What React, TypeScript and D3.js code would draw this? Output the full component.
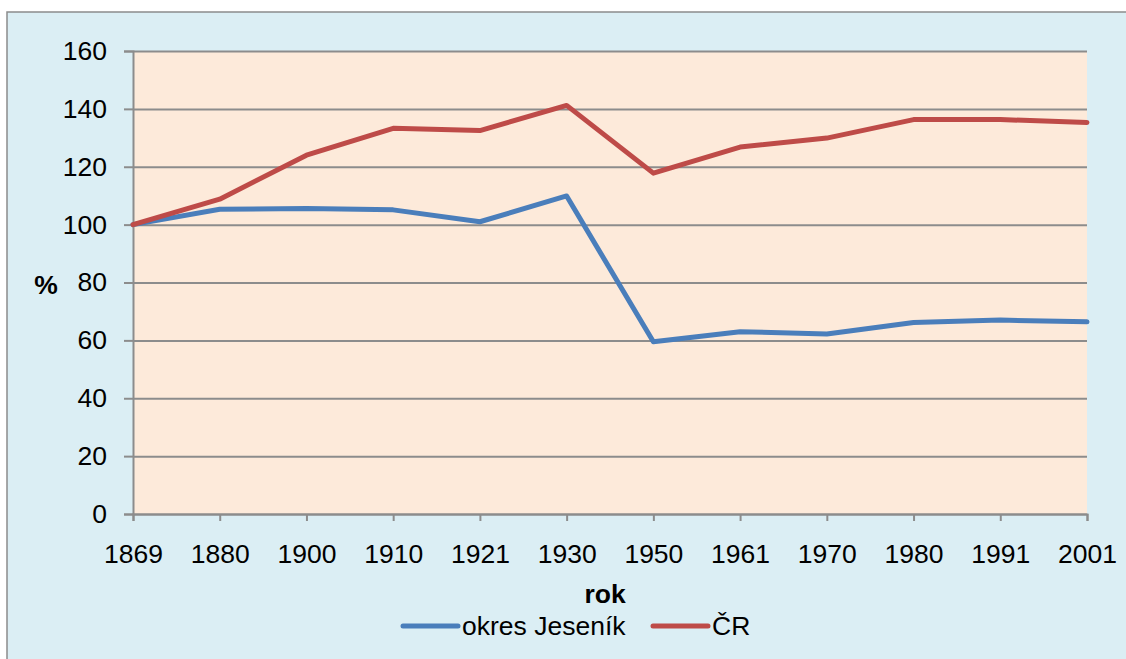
import { useEffect, useRef } from "react";
import * as d3 from "d3";

const YEARS = ["1869", "1880", "1900", "1910", "1921", "1930", "1950", "1961", "1970", "1980", "1991", "2001"];
const JESENIK = [100, 105.3, 105.6, 105.1, 101, 109.9, 59.5, 63, 62.2, 66.2, 67, 66.4];
const CR = [100, 108.8, 124, 133.3, 132.5, 141.2, 117.8, 126.8, 129.9, 136.3, 136.3, 135.3];
const Y_TICKS = [0, 20, 40, 60, 80, 100, 120, 140, 160];

const SERIES = [
  { name: "okres Jeseník", values: JESENIK, color: "#4A7EBB" },
  { name: "ČR", values: CR, color: "#BE4B48" },
];

const W = 1126;
const H = 659;
const FONT = "'Liberation Sans', Arial, sans-serif";
const FS = "26.5px";

export default function App() {
  const svgRef = useRef<SVGSVGElement>(null);

  useEffect(() => {
    const svg = svgRef.current;
    if (!svg) return;
    const s = d3.select(svg);
    s.selectAll("*").remove();

    const m = { top: 51, right: W - 1087, bottom: H - 514, left: 133 };
    const iW = W - m.left - m.right;
    const iH = H - m.top - m.bottom;

    // outer chart area (cropped at right/bottom)
    s.append("rect").attr("width", W).attr("height", H).attr("fill", "#ffffff");
    s.append("rect")
      .attr("x", 7)
      .attr("y", 12)
      .attr("width", W + 20)
      .attr("height", H + 20)
      .attr("fill", "#DBEEF4")
      .attr("stroke", "#8C8C8C")
      .attr("stroke-width", 1.5);

    const g = s.append("g").attr("transform", `translate(${m.left},${m.top})`);

    const x = d3.scalePoint<string>().domain(YEARS).range([0, iW]);
    const y = d3.scaleLinear().domain([0, 160]).range([iH, 0]);

    g.append("rect").attr("width", iW).attr("height", iH).attr("fill", "#FDEADA");

    // y axis with gridlines
    g.append("g")
      .call(
        d3.axisLeft(y)
          .tickValues(Y_TICKS)
          .tickSize(9)
          .tickPadding(17),
      )
      .call((ax) => {
        ax.select(".domain").attr("stroke", "#8C8C8C").attr("stroke-width", 2);
        ax.selectAll(".tick line").attr("stroke", "#8C8C8C").attr("stroke-width", 2);
        ax.selectAll(".tick")
          .append("line")
          .attr("x1", 0)
          .attr("x2", iW)
          .attr("stroke", "#8C8C8C")
          .attr("stroke-width", 2);
        ax.selectAll("text")
          .attr("fill", "#000")
          .attr("font-size", FS)
          .style("font-family", FONT);
      });

    // x axis
    g.append("g")
      .attr("transform", `translate(0,${iH})`)
      .call(d3.axisBottom(x).tickSize(7).tickPadding(23))
      .call((ax) => {
        ax.select(".domain").attr("stroke", "#8C8C8C").attr("stroke-width", 2);
        ax.selectAll(".tick line").attr("stroke", "#8C8C8C").attr("stroke-width", 2);
        ax.selectAll("text")
          .attr("fill", "#000")
          .attr("font-size", FS)
          .style("font-family", FONT);
      });

    const line = d3
      .line<number>()
      .x((_, i) => x(YEARS[i]) ?? 0)
      .y((d) => y(d));

    SERIES.forEach((sr) => {
      g.append("path")
        .datum(sr.values)
        .attr("d", line)
        .attr("fill", "none")
        .attr("stroke", sr.color)
        .attr("stroke-width", 5)
        .attr("stroke-linejoin", "round")
        .attr("stroke-linecap", "round");
    });

    // axis titles
    s.append("text")
      .attr("x", 46)
      .attr("y", 294)
      .attr("text-anchor", "middle")
      .attr("font-size", FS)
      .attr("font-weight", "bold")
      .style("font-family", FONT)
      .text("%");

    s.append("text")
      .attr("x", 605)
      .attr("y", 603)
      .attr("text-anchor", "middle")
      .attr("font-size", FS)
      .attr("font-weight", "bold")
      .style("font-family", FONT)
      .text("rok");

    // legend
    const legendX = [403, 653];
    SERIES.forEach((sr, i) => {
      const lg = s.append("g").attr("transform", `translate(${legendX[i]},626)`);
      lg.append("line")
        .attr("x1", 0)
        .attr("x2", 55)
        .attr("stroke", sr.color)
        .attr("stroke-width", 5)
        .attr("stroke-linecap", "round");
      lg.append("text")
        .attr("x", 59)
        .attr("y", 9)
        .attr("font-size", FS)
        .style("font-family", FONT)
        .text(sr.name);
    });
  }, []);

  return (
    <svg
      ref={svgRef}
      width={W}
      height={H}
      style={{ position: "absolute", left: 0, top: 0, display: "block" }}
    />
  );
}
